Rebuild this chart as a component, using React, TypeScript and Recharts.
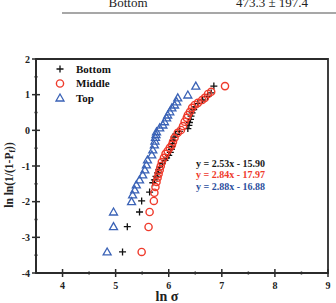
import React from "react";
import { ScatterChart, Scatter, XAxis, YAxis, ReferenceArea } from "recharts";

// ln(sigma), ln ln(1/(1-Pf)) pairs
const BOTTOM: [number, number][] = [
  [5.13, -3.41], [5.22, -2.7], [5.45, -2.29], [5.49, -1.98], [5.64, -1.73],
  [5.7, -1.47], [5.73, -1.39], [5.76, -1.29], [5.79, -1.19], [5.81, -1.11],
  [5.83, -1.03], [5.88, -0.93], [5.93, -0.84], [5.96, -0.77], [6.0, -0.7],
  [6.03, -0.62], [6.05, -0.53], [6.06, -0.45], [6.07, -0.37], [6.08, -0.28],
  [6.1, -0.19], [6.13, -0.11], [6.2, -0.03], [6.36, 0.05], [6.38, 0.14],
  [6.39, 0.22], [6.41, 0.31], [6.42, 0.4], [6.44, 0.49], [6.47, 0.58],
  [6.5, 0.66], [6.55, 0.75], [6.64, 0.85], [6.73, 0.95], [6.8, 1.05],
  [6.85, 1.24],
];

const MIDDLE: [number, number][] = [
  [5.49, -3.41], [5.62, -2.71], [5.64, -2.29], [5.72, -1.98], [5.73, -1.75],
  [5.75, -1.59], [5.77, -1.45], [5.79, -1.33], [5.81, -1.22], [5.83, -1.11],
  [5.85, -1.0], [5.87, -0.89], [5.91, -0.77], [5.94, -0.66], [5.98, -0.58],
  [6.02, -0.49], [6.06, -0.41], [6.08, -0.32], [6.11, -0.21], [6.17, -0.07],
  [6.23, 0.01], [6.27, 0.12], [6.3, 0.24], [6.34, 0.35], [6.36, 0.43],
  [6.4, 0.52], [6.44, 0.63], [6.49, 0.71], [6.55, 0.77], [6.63, 0.85],
  [6.68, 0.91], [6.74, 1.02], [6.8, 1.08], [7.06, 1.24],
];

const TOP: [number, number][] = [
  [4.84, -3.41], [4.96, -2.7], [4.96, -2.29], [5.3, -2.0], [5.32, -1.81],
  [5.36, -1.67], [5.39, -1.53], [5.45, -1.39], [5.51, -1.25], [5.55, -1.11],
  [5.58, -0.97], [5.6, -0.83], [5.68, -0.69], [5.7, -0.55], [5.73, -0.41],
  [5.74, -0.3], [5.75, -0.2], [5.76, -0.12], [5.77, -0.04], [5.83, 0.07],
  [5.89, 0.15], [5.92, 0.24], [5.96, 0.35], [5.98, 0.43], [6.02, 0.52],
  [6.06, 0.63], [6.11, 0.71], [6.15, 0.8], [6.17, 0.91], [6.36, 0.99],
  [6.51, 1.24],
];

const SERIES_NAMES = ["Bottom", "Middle", "Top"];
const FIT_LABELS = ["y = 2.53x - 15.90", "y = 2.84x - 17.97", "y = 2.88x - 16.88"];
const HEADER_LABELS = ["Bottom", "473.3 \u00b1 197.4"];

const X_TICKS = [4, 4.5, 5, 5.5, 6, 6.5, 7, 7.5, 8, 8.5, 9];
const Y_TICKS = [-4, -3.5, -3, -2.5, -2, -1.5, -1, -0.5, 0, 0.5, 1, 1.5, 2];

const FONT = "'Liberation Serif', 'Times New Roman', serif";
const AXIS = "#2b2b2b";
const BLACK = "#111111";
const RED = "#ef3b2c";
const BLUE = "#3a62b6";

const toPoints = (rows: [number, number][]) => rows.map(([x, y]) => ({ x, y }));

const Plus = ({ cx, cy }: any) => (
  <path
    d={`M${cx - 3.5},${cy}H${cx + 3.5}M${cx},${cy - 3.5}V${cy + 3.5}`}
    stroke={BLACK}
    strokeWidth={1.3}
  />
);

const Ring = ({ cx, cy }: any) => (
  <circle cx={cx} cy={cy} r={3.6} fill="none" stroke={RED} strokeWidth={1.4} />
);

const Tri = ({ cx, cy }: any) => (
  <path
    d={`M${cx},${cy - 4}L${cx + 4},${cy + 3}L${cx - 4},${cy + 3}Z`}
    fill="none"
    stroke={BLUE}
    strokeWidth={1.3}
  />
);

const XTick = ({ x, y, payload }: any) => {
  const major = Number.isInteger(payload.value);
  const h = major ? 4 : 1.5;
  return (
    <g>
      <line x1={x} x2={x} y1={y - h} y2={y + h} stroke={AXIS} strokeWidth={1.5} />
      {major && (
        <text x={x} y={y + 15.5} textAnchor="middle" fontFamily={FONT} fontWeight="bold" fontSize={10} fill="#222">
          {payload.value}
        </text>
      )}
    </g>
  );
};

const YTick = ({ x, y, payload }: any) => {
  const major = Number.isInteger(payload.value);
  const h = major ? 4 : 1.5;
  return (
    <g>
      <line x1={x - h} x2={x + h} y1={y} y2={y} stroke={AXIS} strokeWidth={1.5} />
      {major && (
        <text x={x - 6} y={y + 3.5} textAnchor="end" fontFamily={FONT} fontWeight="bold" fontSize={10} fill="#222">
          {payload.value}
        </text>
      )}
    </g>
  );
};

export default function App() {
  const series = [
    { name: SERIES_NAMES[0], data: toPoints(BOTTOM), shape: Plus },
    { name: SERIES_NAMES[1], data: toPoints(MIDDLE), shape: Ring },
    { name: SERIES_NAMES[2], data: toPoints(TOP), shape: Tri },
  ];
  const legendShapes = [Plus, Ring, Tri];
  const fitColors = ["#1a1a1a", RED, "#2c4f9e"];

  return (
    <div style={{ position: "absolute", left: 0, top: 0, width: 336, height: 303, background: "#fff" }}>
      <ScatterChart width={336} height={303} margin={{ top: 59, right: 8, bottom: 0, left: 10 }}>
        <XAxis
          type="number"
          dataKey="x"
          domain={[3.5, 9]}
          allowDataOverflow
          ticks={X_TICKS}
          interval={0}
          height={30}
          tickSize={0}
          tickMargin={0}
          tickLine={false}
          tick={<XTick />}
          axisLine={{ stroke: AXIS, strokeWidth: 2 }}
          label={{
            content: ({ viewBox }: any) => (
              <text
                x={viewBox.x + viewBox.width / 2 - 15}
                y={viewBox.y + 28}
                textAnchor="middle"
                fontFamily={FONT}
                fontWeight="bold"
                fontSize={14}
                fill="#222"
              >
                ln σ
              </text>
            ),
          }}
        />
        <YAxis
          type="number"
          dataKey="y"
          domain={[-4, 2]}
          allowDataOverflow
          ticks={Y_TICKS}
          interval={0}
          width={26}
          tickSize={0}
          tickMargin={0}
          tickLine={false}
          tick={<YTick />}
          axisLine={{ stroke: AXIS, strokeWidth: 2 }}
          label={{
            content: () => (
              <text
                transform="translate(13,175) rotate(-90)"
                textAnchor="middle"
                fontFamily={FONT}
                fontWeight="bold"
                fontSize={11.5}
                fill="#222"
              >
                ln ln(1/(1-P<tspan fontSize={8} dy={2}>f</tspan>
                <tspan dy={-2}>))</tspan>
              </text>
            ),
          }}
        />
        <ReferenceArea x1={3.5} x2={9} y1={-4} y2={2} fill="none" stroke={AXIS} strokeWidth={1.8} />
        {series.map((s) => (
          <Scatter
            key={s.name}
            name={s.name}
            data={s.data}
            shape={s.shape}
            isAnimationActive={false}
          />
        ))}
      </ScatterChart>

      <svg
        width={336}
        height={303}
        style={{ position: "absolute", left: 0, top: 0, pointerEvents: "none" }}
      >
        {/* header row cut off from the table above */}
        <text x={128} y={7} textAnchor="middle" fontFamily={FONT} fontSize={13} fill="#222">
          {HEADER_LABELS[0]}
        </text>
        <text x={272} y={7} textAnchor="middle" fontFamily={FONT} fontSize={13} fill="#222">
          {HEADER_LABELS[1]}
        </text>
        <line x1={62} x2={336} y1={13} y2={13} stroke="#8a8a8a" strokeWidth={1.5} />

        {/* legend */}
        {SERIES_NAMES.map((name, i) => {
          const Shape = legendShapes[i];
          const cy = 69 + i * 14.5;
          return (
            <g key={name}>
              <Shape cx={60} cy={cy} />
              <text x={76} y={cy + 3.8} fontFamily={FONT} fontWeight="bold" fontSize={11} fill="#111">
                {name}
              </text>
            </g>
          );
        })}

        {/* fitted lines */}
        {FIT_LABELS.map((t, i) => (
          <text
            key={t}
            x={196}
            y={166.5 + i * 11.6}
            fontFamily={FONT}
            fontWeight="bold"
            fontSize={10}
            fill={fitColors[i]}
          >
            {t}
          </text>
        ))}
      </svg>
    </div>
  );
}
